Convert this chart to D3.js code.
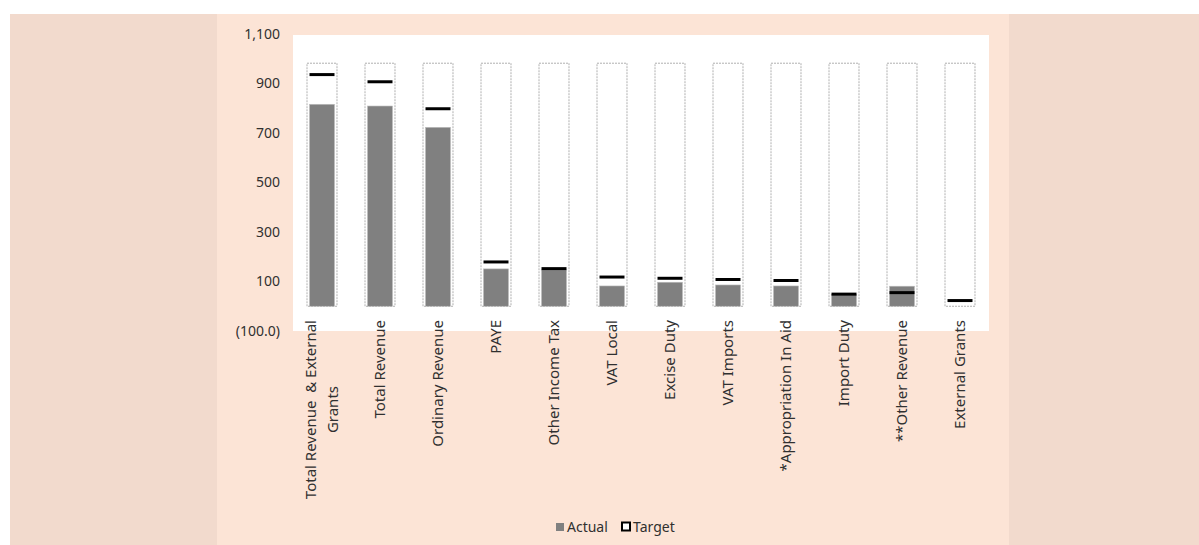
<!DOCTYPE html>
<html>
<head>
<meta charset="utf-8">
<script src="https://cdn.jsdelivr.net/npm/d3@7/dist/d3.min.js"></script>
<style>
  html, body { margin: 0; padding: 0; background: #ffffff; }
  svg { display: block; }
  text { font-family: "Noto Sans", "Open Sans", sans-serif; fill: #303030; }
</style>
</head>
<body>
<svg id="chart" width="1199" height="545"></svg>
<script>
// Revenue categories (each inner array is one wrapped line of the label)
const categories = [
  "Total Revenue & External Grants",
  "Total Revenue",
  "Ordinary Revenue",
  "PAYE",
  "Other Income Tax",
  "VAT Local",
  "Excise Duty",
  "VAT Imports",
  "*Appropriation In Aid",
  "Import Duty",
  "**Other Revenue",
  "External Grants"
];
const labelLines = [
  ["Total Revenue  & External", "Grants"],
  ["Total Revenue"],
  ["Ordinary Revenue"],
  ["PAYE"],
  ["Other Income Tax"],
  ["VAT Local"],
  ["Excise Duty"],
  ["VAT Imports"],
  ["*Appropriation In Aid"],
  ["Import Duty"],
  ["**Other Revenue"],
  ["External Grants"]
];
const actual = [816, 809, 723, 151, 147, 82, 97, 86, 82, 47, 81, 0];
const target = [936, 907, 798, 179, 152, 118, 113, 108, 104, 49, 55, 23];
// Uniform backdrop column drawn behind each category
const frame  = [982, 982, 982, 982, 982, 982, 982, 982, 982, 982, 982, 982];

const yTickValues = [1100, 900, 700, 500, 300, 100, -100];
const yTickLabels = ["1,100", "900", "700", "500", "300", "100", "(100.0)"];

const svg = d3.select("#chart");

// Page panels
svg.append("rect").attr("x", 10).attr("y", 14).attr("width", 1189).attr("height", 531).attr("fill", "#f2dacd");
svg.append("rect").attr("x", 217).attr("y", 14).attr("width", 792).attr("height", 531).attr("fill", "#fce4d6");

// Plot area
const plot = { left: 293, right: 989, top: 35, bottom: 331 };
svg.append("rect")
  .attr("x", plot.left).attr("y", plot.top)
  .attr("width", plot.right - plot.left).attr("height", plot.bottom - plot.top)
  .attr("fill", "#ffffff");

const x = d3.scaleBand()
  .domain(categories)
  .range([plot.left, plot.right])
  .paddingInner(0.483)
  .paddingOuter(0.2415);

const y = d3.scaleLinear()
  .domain([-100, 1100])
  .range([331, 34]);

// Y axis (labels only)
const yAxis = d3.axisLeft(y)
  .tickValues(yTickValues)
  .tickFormat((d, i) => yTickLabels[i])
  .tickSize(0)
  .tickPadding(0);
const gy = svg.append("g").attr("transform", "translate(280,0)").call(yAxis);
gy.select(".domain").remove();
gy.selectAll("text")
  .style("font-family", "'Noto Sans', sans-serif")
  .style("font-size", "14px")
  .attr("fill", "#303030");

const bw = x.bandwidth();
const rows = categories.map((c, i) => ({ c, i, a: actual[i], t: target[i], f: frame[i] }));

// Backdrop columns (dashed outline)
svg.append("g").selectAll("rect").data(rows).join("rect")
  .attr("x", d => x(d.c))
  .attr("y", d => y(d.f))
  .attr("width", bw)
  .attr("height", d => y(0) - y(d.f))
  .attr("fill", "#ffffff")
  .attr("stroke", "#b0b0b0")
  .attr("stroke-width", 1)
  .attr("stroke-dasharray", "2,1");

// Actual columns
svg.append("g").selectAll("rect").data(rows.filter(d => d.a > 0)).join("rect")
  .attr("x", d => x(d.c) + 2.5)
  .attr("y", d => y(d.a))
  .attr("width", bw - 5)
  .attr("height", d => y(0) - y(d.a))
  .attr("fill", "#808080")
  .attr("stroke", "#bdbdbd")
  .attr("stroke-width", 0.6);

// Target markers
svg.append("g").selectAll("line").data(rows).join("line")
  .attr("x1", d => x(d.c) + 2.5)
  .attr("x2", d => x(d.c) + bw - 2.5)
  .attr("y1", d => y(d.t))
  .attr("y2", d => y(d.t))
  .attr("stroke", "#000000")
  .attr("stroke-width", 3);

// Category labels, rotated, block anchored just under the plot
const labelTop = 320;
const lineGap = 22;
const lg = svg.append("g");
rows.forEach(d => {
  const lines = labelLines[d.i];
  const cx = x(d.c) + bw / 2;
  const g = lg.append("g");
  const texts = lines.map((ln, k) => g.append("text")
    .attr("transform", `translate(${cx + (k - (lines.length - 1) / 2) * lineGap},0) rotate(-90)`)
    .attr("dy", "0.35em")
    .style("font-size", "15px")
    .style("white-space", "pre")
    .attr("xml:space", "preserve")
    .text(ln));
  const widths = texts.map(t => t.node().getComputedTextLength());
  const maxW = d3.max(widths);
  texts.forEach(t => t.attr("text-anchor", "middle").attr("x", -(labelTop + maxW / 2)));
});

// Legend
const leg = svg.append("g");
leg.append("rect").attr("x", 556).attr("y", 523).attr("width", 8).attr("height", 8).attr("fill", "#808080");
leg.append("text").attr("x", 567).attr("y", 532).style("font-size", "14px").text("Actual");
leg.append("rect").attr("x", 622).attr("y", 522.5).attr("width", 8).attr("height", 8)
  .attr("fill", "#ffffff").attr("stroke", "#000000").attr("stroke-width", 2);
leg.append("text").attr("x", 633).attr("y", 532).style("font-size", "14px").text("Target");
</script>
</body>
</html>
